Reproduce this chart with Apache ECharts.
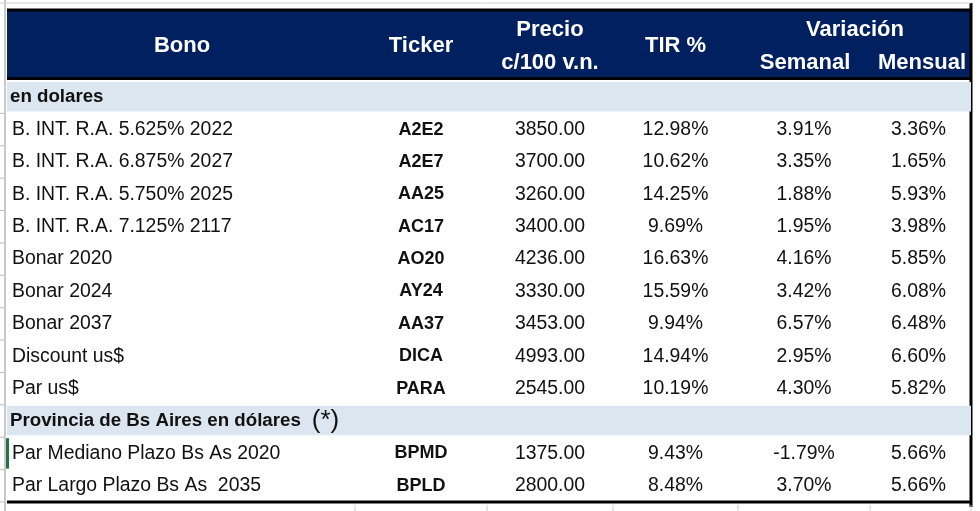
<!DOCTYPE html>
<html><head><meta charset="utf-8">
<script src="https://cdn.jsdelivr.net/npm/echarts@6/dist/echarts.min.js"></script>
<style>html,body{margin:0;padding:0;background:#fff}#c{width:980px;height:511px}</style>
</head><body><div id="c"></div>
<script>
// ---- data ----
const sectionTitles = ['en dolares', 'Provincia de Bs Aires en dólares'];
const sectionNotes = ['', '(*)'];
const bonos = ['B. INT. R.A. 5.625% 2022', 'B. INT. R.A. 6.875% 2027', 'B. INT. R.A. 5.750% 2025', 'B. INT. R.A. 7.125% 2117', 'Bonar 2020', 'Bonar 2024', 'Bonar 2037', 'Discount us$', 'Par us$', 'Par Mediano Plazo Bs As 2020', 'Par Largo Plazo Bs As  2035'];
const bonoSection = [0, 0, 0, 0, 0, 0, 0, 0, 0, 1, 1];
const tickers = ['A2E2', 'A2E7', 'AA25', 'AC17', 'AO20', 'AY24', 'AA37', 'DICA', 'PARA', 'BPMD', 'BPLD'];
const precios = [3850.00, 3700.00, 3260.00, 3400.00, 4236.00, 3330.00, 3453.00, 4993.00, 2545.00, 1375.00, 2800.00];
const tir = [12.98, 10.62, 14.25, 9.69, 16.63, 15.59, 9.94, 14.94, 10.19, 9.43, 8.48];
const semanal = [3.91, 3.35, 1.88, 1.95, 4.16, 3.42, 6.57, 2.95, 4.30, -1.79, 3.70];
const mensual = [3.36, 1.65, 5.93, 3.98, 5.85, 6.08, 6.48, 6.60, 5.82, 5.66, 5.66];
const headBono = 'Bono', headTicker = 'Ticker', headPrecio = ['Precio', 'c/100 v.n.'], headTir = 'TIR %';
const headVar = 'Variación', headSem = 'Semanal', headMen = 'Mensual';

// ---- layout (not data) ----
const FONT = '"Liberation Sans", Arial, sans-serif';
const GRID_L = 7, GRID_W = 964;
const colBounds = [0, 348, 480, 606, 731, 863, 964]; // in grid units
const NAVY = '#002060', BAND = '#dce6f1', INK = '#111';

// build rows
const rows = [];
sectionTitles.forEach((t, s) => {
  rows.push({ type: 'section', s: s });
  bonos.forEach((b, i) => { if (bonoSection[i] === s) rows.push({ type: 'bond', i: i }); });
});

const fmtPct = v => v.toFixed(2) + '%';
const colCenter = c => (colBounds[c] + colBounds[c + 1]) / 2;

function renderItem(params, api) {
  const k = api.value(1);
  const r = rows[k];
  const p = api.coord([0, k]);
  const h = api.size([0, 1])[1];
  const yc = p[1];
  const xAt = v => api.coord([v, k])[0];
  const ch = [];
  // excel gutter tick
  ch.push({ type: 'line', shape: { x1: 0, y1: yc + h / 2, x2: 4, y2: yc + h / 2 }, style: { stroke: '#bbb', lineWidth: 1 } });
  if (r.type === 'section') {
    ch.push({ type: 'rect', shape: { x: xAt(0), y: yc - h / 2 + 1, width: xAt(GRID_W) - xAt(0), height: h - 3 }, style: { fill: BAND } });
    ch.push({ type: 'text', x: xAt(3), y: yc, style: {
      text: '{a|' + sectionTitles[r.s] + '}' + (sectionNotes[r.s] ? '{b|' + sectionNotes[r.s] + '}' : ''),
      verticalAlign: 'middle', align: 'left',
      rich: { a: { font: 'bold 18.7px ' + FONT, fill: INK }, b: { font: '26px ' + FONT, fill: INK, padding: [0, 0, 0, 11] } }
    } });
  } else {
    const i = r.i;
    const txt = (x, s, align, bold) => ({ type: 'text', x: x, y: yc, style: { text: s, align: align, verticalAlign: 'middle', font: (bold ? 'bold 18px ' : '19.4px ') + FONT, fill: INK } });
    ch.push(txt(xAt(5), bonos[i], 'left', false));
    ch.push(txt(xAt(colCenter(1)), tickers[i], 'center', true));
    ch.push(txt(xAt(colCenter(2)), precios[i].toFixed(2), 'center', false));
    ch.push(txt(xAt(colCenter(3)), fmtPct(tir[i]), 'center', false));
    ch.push(txt(xAt(colCenter(4)), fmtPct(semanal[i]), 'center', false));
    ch.push(txt(xAt(colCenter(5) - 2), fmtPct(mensual[i]), 'center', false));
    if (k === rows.length - 2) {
      ch.push({ type: 'rect', shape: { x: 6, y: yc - h / 2 + 1, width: 3, height: h - 2 }, style: { fill: '#217346' } });
    }
  }
  return { type: 'group', children: ch };
}

const hx = c => GRID_L + colCenter(c);
const hText = (x, y, s) => ({ type: 'text', x: x, y: y, style: { text: s, align: 'center', verticalAlign: 'middle', font: 'bold 22px ' + FONT, fill: '#fff' } });

const option = {
  animation: false,
  grid: { left: GRID_L, width: GRID_W, top: 81, height: 421 },
  xAxis: { type: 'value', min: 0, max: GRID_W, show: false },
  yAxis: { type: 'category', inverse: true, data: rows.map((r, k) => k), show: false },
  series: [{
    type: 'custom', clip: false,
    data: rows.map((r, k) => [0, k]),
    encode: { x: 0, y: 1 },
    renderItem: renderItem
  }],
  graphic: [
    { type: 'line', shape: { x1: 5, y1: 0, x2: 5, y2: 511 }, style: { stroke: '#c9c9c9', lineWidth: 2 }, z: 0 },
    { type: 'rect', shape: { x: 7, y: 9, width: 964, height: 70 }, style: { fill: NAVY } },
    { type: 'line', shape: { x1: 7, y1: 10, x2: 971, y2: 10 }, style: { stroke: '#000', lineWidth: 3 } },
    { type: 'line', shape: { x1: 7, y1: 78.5, x2: 971, y2: 78.5 }, style: { stroke: '#000', lineWidth: 3 } },
    { type: 'line', shape: { x1: 971, y1: 3, x2: 971, y2: 507 }, style: { stroke: '#000', lineWidth: 3 } },
    { type: 'line', shape: { x1: 7, y1: 502, x2: 972, y2: 502 }, style: { stroke: '#000', lineWidth: 3 } },
    { type: 'line', shape: { x1: 0, y1: 3, x2: 971, y2: 3 }, style: { stroke: '#d0d0d0', lineWidth: 1 } },
    hText(182, 46, headBono),
    hText(hx(1), 46, headTicker),
    hText(hx(2), 30, headPrecio[0]),
    hText(hx(2), 63, headPrecio[1]),
    hText(hx(3), 46, headTir),
    hText(855, 30, headVar),
    hText(805, 63, headSem),
    hText(922, 63, headMen)
  ]
};
// column separator ticks below the table (excel gridlines)
colBounds.slice(1).forEach(b => option.graphic.push({ type: 'line', shape: { x1: GRID_L + b, y1: 505, x2: GRID_L + b, y2: 511 }, style: { stroke: '#ccc', lineWidth: 1 } }));

echarts.init(document.getElementById('c'), null, { renderer: 'canvas' }).setOption(option);
</script></body></html>
